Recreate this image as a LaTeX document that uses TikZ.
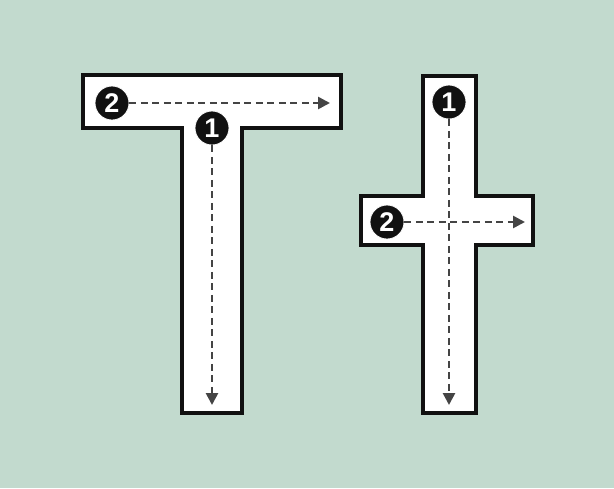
\documentclass[tikz,border=0pt]{standalone}
\usepackage{fontspec}
\setmainfont{Liberation Sans}
\usetikzlibrary{arrows.meta}
\definecolor{bg}{HTML}{C2DACE}
\definecolor{arr}{HTML}{444444}
\definecolor{ink}{HTML}{111111}
\begin{document}
\begin{tikzpicture}[x=1pt,y=-1pt,
  letter/.style={draw=ink,line width=3.2pt,fill=white,line join=miter},
  num/.style={circle,fill=ink,draw=white,line width=0.8pt,minimum size=34pt,inner sep=0pt,
    text=white,font=\fontsize{27}{27}\selectfont\bfseries},
  guide/.style={draw=arr,line width=2.6pt,dash pattern=on 7pt off 4.5pt,
    -{Triangle[length=12pt,width=12pt]}}]
\fill[bg] (0,0) rectangle (614,488);
\useasboundingbox (0,0) rectangle (614,488);
% T
\path[letter] (83,75) -- (341,75) -- (341,128) -- (242,128) -- (242,413) -- (182,413)
  -- (182,128) -- (83,128) -- cycle;
% cross
\path[letter] (423,76) -- (476,76) -- (476,196) -- (533,196) -- (533,245) -- (476,245)
  -- (476,413) -- (423,413) -- (423,245) -- (361,245) -- (361,196) -- (423,196) -- cycle;
% guide ends
\coordinate (t2e) at (330,103);
\coordinate (t1e) at (212,405);
\coordinate (c1e) at (449,405);
\coordinate (c2e) at (525,222);
\node[num] (t2) at (112,103) {2};
\node[num] (t1) at (212,128) {1};
\node[num] (c1) at (449,102) {1};
\node[num] (c2) at (387,222) {2};
\draw[guide] (t2) -- (t2e);
\draw[guide] (t1) -- (t1e);
\draw[guide] (c1) -- (c1e);
\draw[guide] (c2) -- (c2e);
\end{tikzpicture}
\end{document}
